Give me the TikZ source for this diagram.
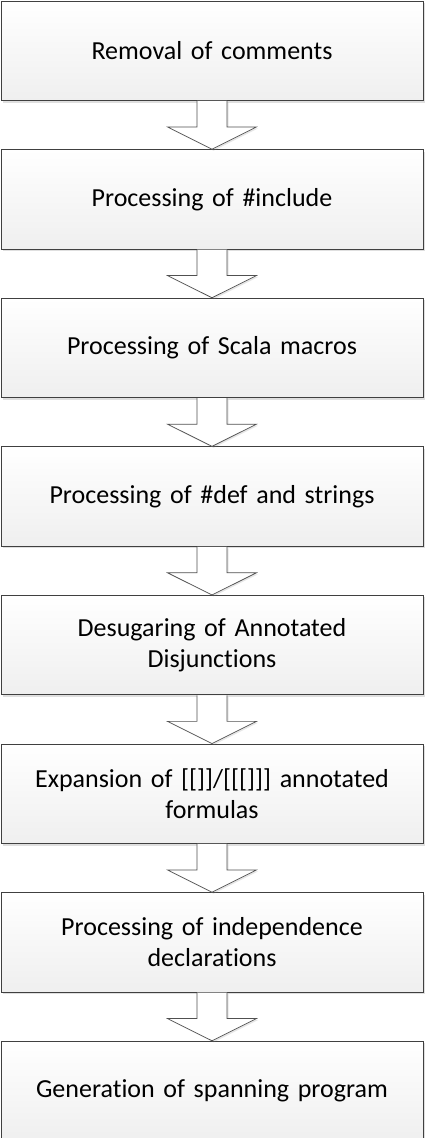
\documentclass[tikz,border=0pt]{standalone}
\usepackage{fontspec}
\setmainfont[Ligatures=NoCommon]{Carlito}
\usetikzlibrary{calc,shadows,positioning}
\definecolor{boxline}{HTML}{404040}
\definecolor{boxfill}{HTML}{EFEFEF}
\definecolor{arrline}{HTML}{505050}
\newcommand\fatarrow[2]{%
  \draw[arrowbody] ($(#1.south)+(-15,0)$) -- ++(0,-26) -- ++(-29.5,0)
   -- (#2.north) -- ($(#1.south)+(44.5,-26)$) -- ++(-29.5,0) -- ($(#1.south)+(15,0)$);}
\begin{document}
\begin{tikzpicture}[x=1pt,y=1pt,
    stepbox/.style={rectangle,draw=boxline,line width=0.9pt,top color=white,bottom color=boxfill,
        minimum width=422pt,minimum height=99.5pt,text width=400pt,align=center,
        font=\fontsize{26}{31}\selectfont,
        drop shadow={shadow xshift=2pt,shadow yshift=-2pt,opacity=0.25,fill=gray}},
    arrowbody/.style={draw=arrline,line width=0.7pt,fill=white,
        drop shadow={shadow xshift=1.5pt,shadow yshift=-1.5pt,opacity=0.2,fill=gray}},
    node distance=48.2pt]
  \useasboundingbox (0,0) rectangle (426,-1138);
  \node[stepbox] (s1) at (212,-50.75) {Removal of comments};
  \node[stepbox,below=of s1] (s2) {Processing of \#include};
  \node[stepbox,below=of s2] (s3) {Processing of Scala macros};
  \node[stepbox,below=of s3] (s4) {Processing of \#def and strings};
  \node[stepbox,below=of s4] (s5) {Desugaring of Annotated\\Disjunctions};
  \node[stepbox,below=of s5] (s6) {Expansion of [[]]/[[[]]] annotated\\formulas};
  \node[stepbox,below=of s6] (s7) {Processing of independence\\declarations};
  \node[stepbox,below=of s7] (s8) {Generation of spanning program};
  \foreach \X [count=\Y] in {2,...,8} {\fatarrow{s\Y}{s\X}}
\end{tikzpicture}
\end{document}
